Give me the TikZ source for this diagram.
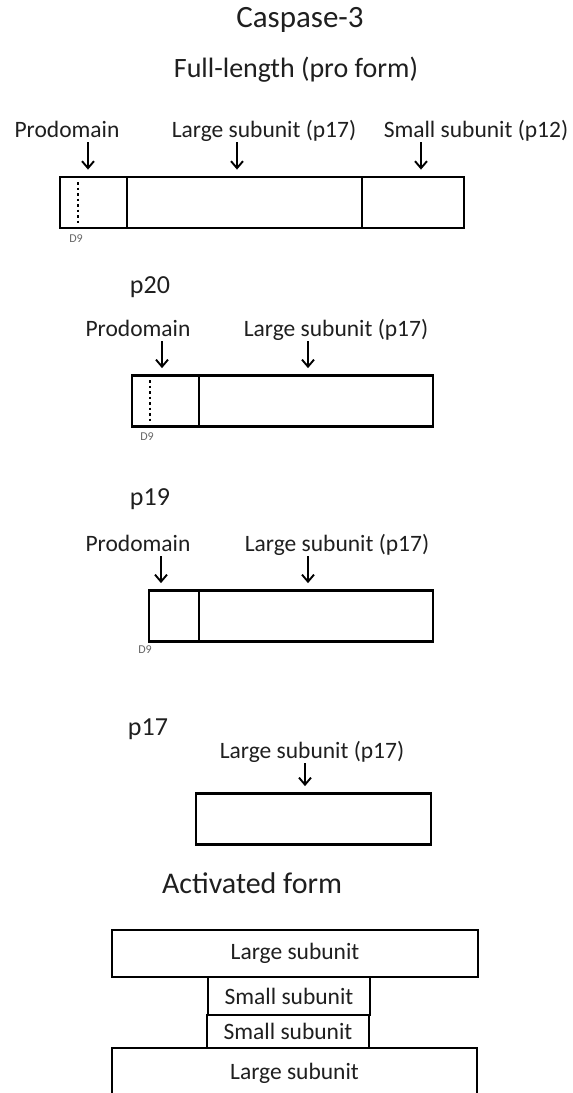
\documentclass[tikz,border=0pt]{standalone}
\usepackage{fontspec}
\setmainfont{Carlito}
\usepackage{tikz}
\usetikzlibrary{arrows.meta}
\tikzset{every node/.append style={font=\fontsize{23.5}{28}\selectfont, text=black!88}}

\begin{document}
\begin{tikzpicture}[x=1pt, y=-1pt, >={Straight Barb[length=7pt, width=12pt]},
    seg/.style={draw, line width=2.8pt, inner sep=0pt, minimum height=51pt},
    pointer/.style={->, line width=1.9pt, shorten >=6pt},
    cut/.style={line width=1.6pt, dash pattern=on 2.5pt off 3pt},
    site/.style={font=\fontsize{12}{14}\selectfont, text=black!60}]
    \useasboundingbox (0,0) rectangle (573,1093);

    % headings
    \node[anchor=base, font=\fontsize{31}{36}\selectfont] (title) at (300,27) {Caspase-3};
    \node[anchor=base, font=\fontsize{28}{34}\selectfont] (full) at (296,77) {Full-length (pro form)};

    % full-length
    \node[anchor=base] (tpro1) at (67,137) {Prodomain};
    \node[anchor=base] (tlrg1) at (264,137) {Large subunit (p17)};
    \node[anchor=base] (tsml1) at (476,137) {Small subunit (p12)};
    \node[seg, minimum width=67pt]  (pro1) at (93.5,202.5) {};
    \node[seg, minimum width=235pt] (lrg1) at (244.5,202.5) {};
    \node[seg, minimum width=102pt] (sml1) at (413,202.5) {};
    \draw[cut] (78,182) -- (78,224);
    \node[site] (d9a) at (76,239) {D9};

    % p20
    \node[anchor=base, font=\fontsize{26}{30}\selectfont] (p20) at (150,293) {p20};
    \node[anchor=base] (tpro2) at (138,336) {Prodomain};
    \node[anchor=base] (tlrg2) at (336,336) {Large subunit (p17)};
    \node[seg, minimum width=67pt]  (pro2) at (165.5,401) {};
    \node[seg, minimum width=234pt] (lrg2) at (316,401) {};
    \draw[cut] (150,380) -- (150,422);
    \node[site] (d9b) at (147,437) {D9};

    % p19
    \node[anchor=base, font=\fontsize{26}{30}\selectfont] (p19) at (150,505) {p19};
    \node[anchor=base] (tpro3) at (138,551) {Prodomain};
    \node[anchor=base] (tlrg3) at (337,551) {Large subunit (p17)};
    \node[seg, minimum width=50pt]  (pro3) at (174,616) {};
    \node[seg, minimum width=234pt] (lrg3) at (316,616) {};
    \node[site] (d9c) at (145,650) {D9};

    % p17
    \node[anchor=base, font=\fontsize{26}{30}\selectfont] (p17) at (148,735) {p17};
    \node[anchor=base] (tlrg4) at (312,758) {Large subunit (p17)};
    \node[seg, minimum width=235pt] (lrg4) at (313.5,819) {};

    % arrows
    \foreach \x/\y/\b in {88/142/pro1, 237/142/lrg1, 421/142/sml1,
                          162/341/pro2, 308/341/lrg2,
                          161/556/pro3, 308/556/lrg3,
                          305/763/lrg4} {
        \coordinate (\b-a) at (\x,\y);
        \draw[pointer] (\b-a) -- (\b-a |- \b.north);
    }

    % activated form
    \node[anchor=base, font=\fontsize{30}{34}\selectfont] (act) at (252,893) {Activated form};
    \node[seg, minimum width=366pt, minimum height=47pt] (big1) at (295,953.5) {Large subunit};
    \node[seg, minimum width=162pt, minimum height=38pt] (small1) at (289,996) {Small subunit};
    \node[seg, minimum width=162pt, minimum height=33pt] (small2) at (288,1031.5) {Small subunit};
    \node[seg, minimum width=365pt, minimum height=50pt] (big2) at (294.5,1073) {Large subunit};
\end{tikzpicture}
\end{document}
